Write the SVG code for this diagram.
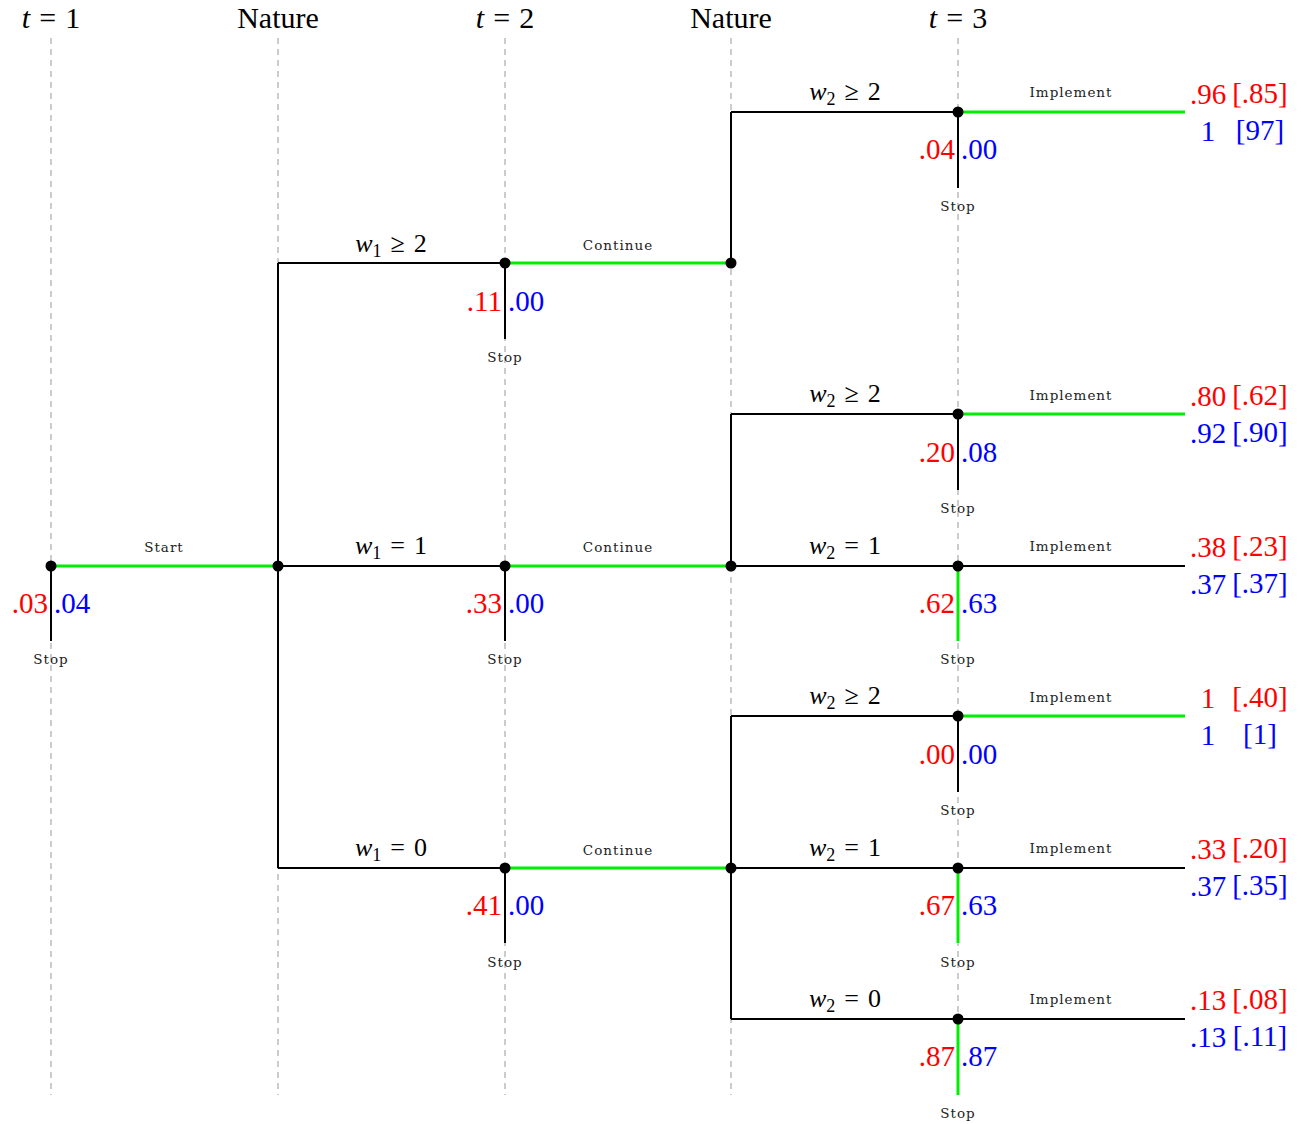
<svg xmlns="http://www.w3.org/2000/svg" width="1303" height="1124" viewBox="0 0 1303 1124">
<style>
.bg{fill:#fff}
.guide{stroke:#999;stroke-width:1;stroke-dasharray:6,5;fill:none}
.blk{stroke:#000;stroke-width:2;fill:none}
.grn{stroke:#00ee00;stroke-width:3;fill:none}
.dot{fill:#000}
.hdr{font-family:"Liberation Serif","DejaVu Serif",serif;font-size:30px;fill:#000;text-anchor:middle}
.math{font-family:"Liberation Serif","DejaVu Serif",serif;font-size:26px;fill:#000;text-anchor:middle}
.sm{font-family:"DejaVu Serif","Liberation Serif",serif;font-size:13.5px;letter-spacing:1px;fill:#222;text-anchor:middle}
.r{font-family:"Liberation Serif","DejaVu Serif",serif;font-size:29px;fill:#ff0000}
.b{font-family:"Liberation Serif","DejaVu Serif",serif;font-size:29px;fill:#0000ff}
.end{text-anchor:end}
.mid{text-anchor:middle}
.it{font-style:italic}
.sub{font-size:18px}
</style>
<rect class="bg" x="0" y="0" width="1303" height="1124"/>
<g id="guides">
<line class="guide" x1="51" y1="38" x2="51" y2="1095"/>
<line class="guide" x1="278" y1="38" x2="278" y2="1095"/>
<line class="guide" x1="505" y1="38" x2="505" y2="1095"/>
<line class="guide" x1="731" y1="38" x2="731" y2="1095"/>
<line class="guide" x1="958" y1="38" x2="958" y2="1095"/>
</g>
<g id="headers">
<text class="hdr" x="51" y="28"><tspan class="it">t</tspan><tspan dx="9">=</tspan><tspan dx="9">1</tspan></text>
<text class="hdr" x="278" y="28">Nature</text>
<text class="hdr" x="505" y="28"><tspan class="it">t</tspan><tspan dx="9">=</tspan><tspan dx="9">2</tspan></text>
<text class="hdr" x="731" y="28">Nature</text>
<text class="hdr" x="958" y="28"><tspan class="it">t</tspan><tspan dx="9">=</tspan><tspan dx="9">3</tspan></text>
</g>
<g id="connectors">
<line class="grn" x1="51" y1="566" x2="278" y2="566"/>
<line class="blk" x1="51" y1="566" x2="51" y2="641"/>
<line class="blk" x1="278" y1="263" x2="278" y2="868"/>
<line class="blk" x1="278" y1="263" x2="505" y2="263"/>
<line class="blk" x1="278" y1="566" x2="505" y2="566"/>
<line class="blk" x1="278" y1="868" x2="505" y2="868"/>
<line class="grn" x1="505" y1="263" x2="731" y2="263"/>
<line class="grn" x1="505" y1="566" x2="731" y2="566"/>
<line class="grn" x1="505" y1="868" x2="731" y2="868"/>
<line class="blk" x1="505" y1="263" x2="505" y2="339"/>
<line class="blk" x1="505" y1="566" x2="505" y2="641"/>
<line class="blk" x1="505" y1="868" x2="505" y2="943"/>
<line class="blk" x1="731" y1="112" x2="731" y2="263"/>
<line class="blk" x1="731" y1="112" x2="958" y2="112"/>
<line class="blk" x1="731" y1="414" x2="731" y2="566"/>
<line class="blk" x1="731" y1="414" x2="958" y2="414"/>
<line class="blk" x1="731" y1="566" x2="958" y2="566"/>
<line class="blk" x1="731" y1="716" x2="731" y2="1019"/>
<line class="blk" x1="731" y1="716" x2="958" y2="716"/>
<line class="blk" x1="731" y1="868" x2="958" y2="868"/>
<line class="blk" x1="731" y1="1019" x2="958" y2="1019"/>
<line class="grn" x1="958" y1="112" x2="1185" y2="112"/>
<line class="blk" x1="958" y1="112" x2="958" y2="188"/>
<line class="grn" x1="958" y1="414" x2="1185" y2="414"/>
<line class="blk" x1="958" y1="414" x2="958" y2="490"/>
<line class="blk" x1="958" y1="566" x2="1185" y2="566"/>
<line class="grn" x1="958" y1="566" x2="958" y2="641"/>
<line class="grn" x1="958" y1="716" x2="1185" y2="716"/>
<line class="blk" x1="958" y1="716" x2="958" y2="792"/>
<line class="blk" x1="958" y1="868" x2="1185" y2="868"/>
<line class="grn" x1="958" y1="868" x2="958" y2="943"/>
<line class="blk" x1="958" y1="1019" x2="1185" y2="1019"/>
<line class="grn" x1="958" y1="1019" x2="958" y2="1095"/>
</g>
<g id="edge-labels">
<text class="sm" x="164" y="552">Start</text>
<text class="math" x="391" y="252"><tspan class="it">w</tspan><tspan class="sub" dy="5">1</tspan><tspan dy="-5" dx="9">≥</tspan><tspan dx="9">2</tspan></text>
<text class="math" x="391" y="554"><tspan class="it">w</tspan><tspan class="sub" dy="5">1</tspan><tspan dy="-5" dx="9">=</tspan><tspan dx="9">1</tspan></text>
<text class="math" x="391" y="856"><tspan class="it">w</tspan><tspan class="sub" dy="5">1</tspan><tspan dy="-5" dx="9">=</tspan><tspan dx="9">0</tspan></text>
<text class="sm" x="618" y="250">Continue</text>
<text class="sm" x="618" y="552">Continue</text>
<text class="sm" x="618" y="855">Continue</text>
<text class="math" x="845" y="100"><tspan class="it">w</tspan><tspan class="sub" dy="5">2</tspan><tspan dy="-5" dx="9">≥</tspan><tspan dx="9">2</tspan></text>
<text class="math" x="845" y="402"><tspan class="it">w</tspan><tspan class="sub" dy="5">2</tspan><tspan dy="-5" dx="9">≥</tspan><tspan dx="9">2</tspan></text>
<text class="math" x="845" y="554"><tspan class="it">w</tspan><tspan class="sub" dy="5">2</tspan><tspan dy="-5" dx="9">=</tspan><tspan dx="9">1</tspan></text>
<text class="math" x="845" y="704"><tspan class="it">w</tspan><tspan class="sub" dy="5">2</tspan><tspan dy="-5" dx="9">≥</tspan><tspan dx="9">2</tspan></text>
<text class="math" x="845" y="856"><tspan class="it">w</tspan><tspan class="sub" dy="5">2</tspan><tspan dy="-5" dx="9">=</tspan><tspan dx="9">1</tspan></text>
<text class="math" x="845" y="1007"><tspan class="it">w</tspan><tspan class="sub" dy="5">2</tspan><tspan dy="-5" dx="9">=</tspan><tspan dx="9">0</tspan></text>
<text class="sm" x="1071" y="97">Implement</text>
<text class="sm" x="1071" y="400">Implement</text>
<text class="sm" x="1071" y="551">Implement</text>
<text class="sm" x="1071" y="702">Implement</text>
<text class="sm" x="1071" y="853">Implement</text>
<text class="sm" x="1071" y="1004">Implement</text>
</g>
<g id="node-t1">
<circle class="dot" cx="51" cy="566" r="5.5"/>
<text class="r end" x="48" y="613">.03</text><text class="b" x="54" y="613">.04</text>
<text class="sm" x="51" y="664">Stop</text>
</g>
<g id="node-nature1">
<circle class="dot" cx="278" cy="566" r="5.5"/>
</g>
<g id="node-t2-a">
<circle class="dot" cx="505" cy="263" r="5.5"/>
<text class="r end" x="502" y="311">.11</text><text class="b" x="508" y="311">.00</text>
<text class="sm" x="505" y="362">Stop</text>
</g>
<g id="node-t2-b">
<circle class="dot" cx="505" cy="566" r="5.5"/>
<text class="r end" x="502" y="613">.33</text><text class="b" x="508" y="613">.00</text>
<text class="sm" x="505" y="664">Stop</text>
</g>
<g id="node-t2-c">
<circle class="dot" cx="505" cy="868" r="5.5"/>
<text class="r end" x="502" y="915">.41</text><text class="b" x="508" y="915">.00</text>
<text class="sm" x="505" y="967">Stop</text>
</g>
<g id="node-nature2-a"><circle class="dot" cx="731" cy="263" r="5.5"/></g>
<g id="node-nature2-b"><circle class="dot" cx="731" cy="566" r="5.5"/></g>
<g id="node-nature2-c"><circle class="dot" cx="731" cy="868" r="5.5"/></g>
<g id="node-t3-a">
<circle class="dot" cx="958" cy="112" r="5.5"/>
<text class="r end" x="955" y="159">.04</text><text class="b" x="961" y="159">.00</text>
<text class="sm" x="958" y="211">Stop</text>
<text class="r mid" x="1208" y="104">.96</text><text class="r mid" x="1260" y="103">[.85]</text>
<text class="b mid" x="1208" y="141">1</text><text class="b mid" x="1260" y="140">[97]</text>
</g>
<g id="node-t3-b">
<circle class="dot" cx="958" cy="414" r="5.5"/>
<text class="r end" x="955" y="462">.20</text><text class="b" x="961" y="462">.08</text>
<text class="sm" x="958" y="513">Stop</text>
<text class="r mid" x="1208" y="406">.80</text><text class="r mid" x="1260" y="405">[.62]</text>
<text class="b mid" x="1208" y="443">.92</text><text class="b mid" x="1260" y="442">[.90]</text>
</g>
<g id="node-t3-c">
<circle class="dot" cx="958" cy="566" r="5.5"/>
<text class="r end" x="955" y="613">.62</text><text class="b" x="961" y="613">.63</text>
<text class="sm" x="958" y="664">Stop</text>
<text class="r mid" x="1208" y="557">.38</text><text class="r mid" x="1260" y="556">[.23]</text>
<text class="b mid" x="1208" y="594">.37</text><text class="b mid" x="1260" y="593">[.37]</text>
</g>
<g id="node-t3-d">
<circle class="dot" cx="958" cy="716" r="5.5"/>
<text class="r end" x="955" y="764">.00</text><text class="b" x="961" y="764">.00</text>
<text class="sm" x="958" y="815">Stop</text>
<text class="r mid" x="1208" y="708">1</text><text class="r mid" x="1260" y="707">[.40]</text>
<text class="b mid" x="1208" y="745">1</text><text class="b mid" x="1260" y="744">[1]</text>
</g>
<g id="node-t3-e">
<circle class="dot" cx="958" cy="868" r="5.5"/>
<text class="r end" x="955" y="915">.67</text><text class="b" x="961" y="915">.63</text>
<text class="sm" x="958" y="967">Stop</text>
<text class="r mid" x="1208" y="859">.33</text><text class="r mid" x="1260" y="858">[.20]</text>
<text class="b mid" x="1208" y="896">.37</text><text class="b mid" x="1260" y="895">[.35]</text>
</g>
<g id="node-t3-f">
<circle class="dot" cx="958" cy="1019" r="5.5"/>
<text class="r end" x="955" y="1066">.87</text><text class="b" x="961" y="1066">.87</text>
<text class="sm" x="958" y="1118">Stop</text>
<text class="r mid" x="1208" y="1010">.13</text><text class="r mid" x="1260" y="1009">[.08]</text>
<text class="b mid" x="1208" y="1047">.13</text><text class="b mid" x="1260" y="1046">[.11]</text>
</g>
</svg>
